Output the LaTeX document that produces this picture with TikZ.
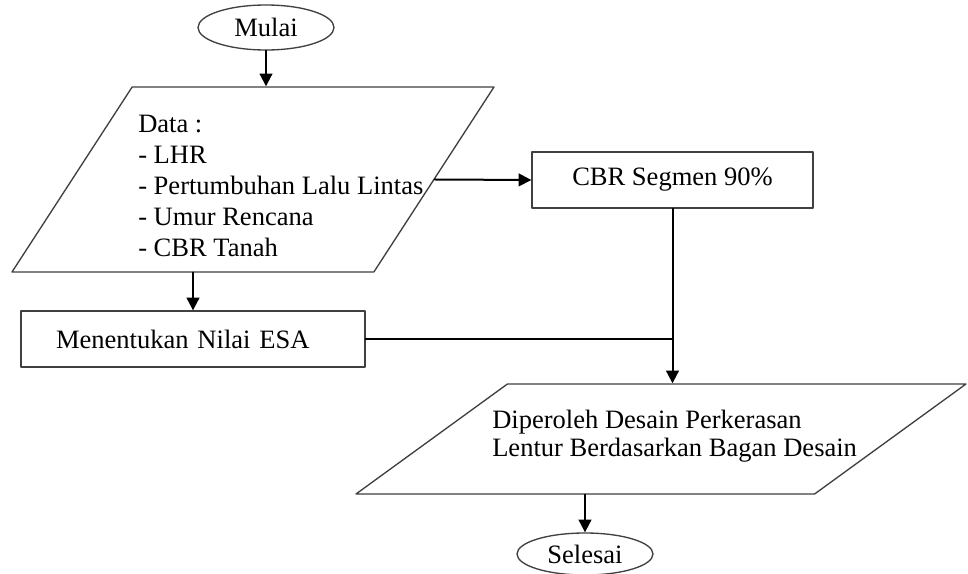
\documentclass[tikz,border=0pt]{standalone}
\usepackage{fontspec}
\setmainfont{Liberation Serif}
\usetikzlibrary{arrows.meta,shapes.geometric,positioning}

\begin{document}
\begin{tikzpicture}[x=0.75pt,y=-0.75pt,>={Triangle[length=9.5pt,width=9.5pt]},
  line cap=round,line join=round,
  font=\fontsize{19.9}{23.25}\selectfont,
  terminal/.style={draw=black!75,line width=1pt,ellipse,inner sep=0pt,
    minimum width=102pt,minimum height=33.75pt},
  process/.style={draw=black!75,line width=1pt,rectangle,minimum height=42pt},
  inout/.style={draw=black!75,line width=1pt,trapezium,inner sep=0pt,
    trapezium stretches body},
  conn/.style={line width=1.5pt,black}]
  % white background
  \fill[white] (0,0) rectangle (968,574);
  \useasboundingbox (0,0) rectangle (968,574);

  % shapes
  \node[terminal] (start) at (266,27.5) {Mulai};
  \node[inout,trapezium left angle=57,trapezium right angle=123,
    minimum width=361.5pt] (data) at (253,179.5) {\rule{0pt}{138.75pt}};
  \node[anchor=west,inner sep=0pt,align=left] (datatxt) at (138,186)
    {Data :\\- LHR\\- Pertumbuhan Lalu Lintas\\- Umur Rencana\\- CBR Tanah};
  \node[process,minimum width=210.75pt] (cbr) at (672.5,180) {CBR Segmen 90\%};
  \node[process,minimum width=258pt,text width=205.5pt,inner xsep=26.25pt,
    align=left] (esa) at (193,339) {Menentukan Nilai ESA};
  \node[inout,trapezium left angle=36,trapezium right angle=144,
    minimum width=457.5pt] (hasil) at (661,439) {\rule{0pt}{82.5pt}};
  \node[anchor=west,inner sep=0pt,align=left,
    font=\fontsize{19.9}{21}\selectfont] (hasiltxt) at (492,436)
    {Diperoleh Desain Perkerasan\\Lentur Berdasarkan Bagan Desain};
  \node[terminal,minimum height=31.5pt] (stop) at (585,554) {Selesai};

  % connectors
  \coordinate (join) at (cbr.south |- esa.east);
  \draw[conn,->] (start.south) -- (start.south |- data.north);
  \draw[conn,->] (data.east) -- (cbr.west);
  \draw[conn,->] (esa.north |- data.south) -- (esa.north);
  \draw[conn] (esa.east) -- (join);
  \draw[conn,->] (cbr.south) -- (cbr.south |- hasil.north);
  \draw[conn,->] (stop.north |- hasil.south) -- (stop.north);
\end{tikzpicture}
\end{document}
